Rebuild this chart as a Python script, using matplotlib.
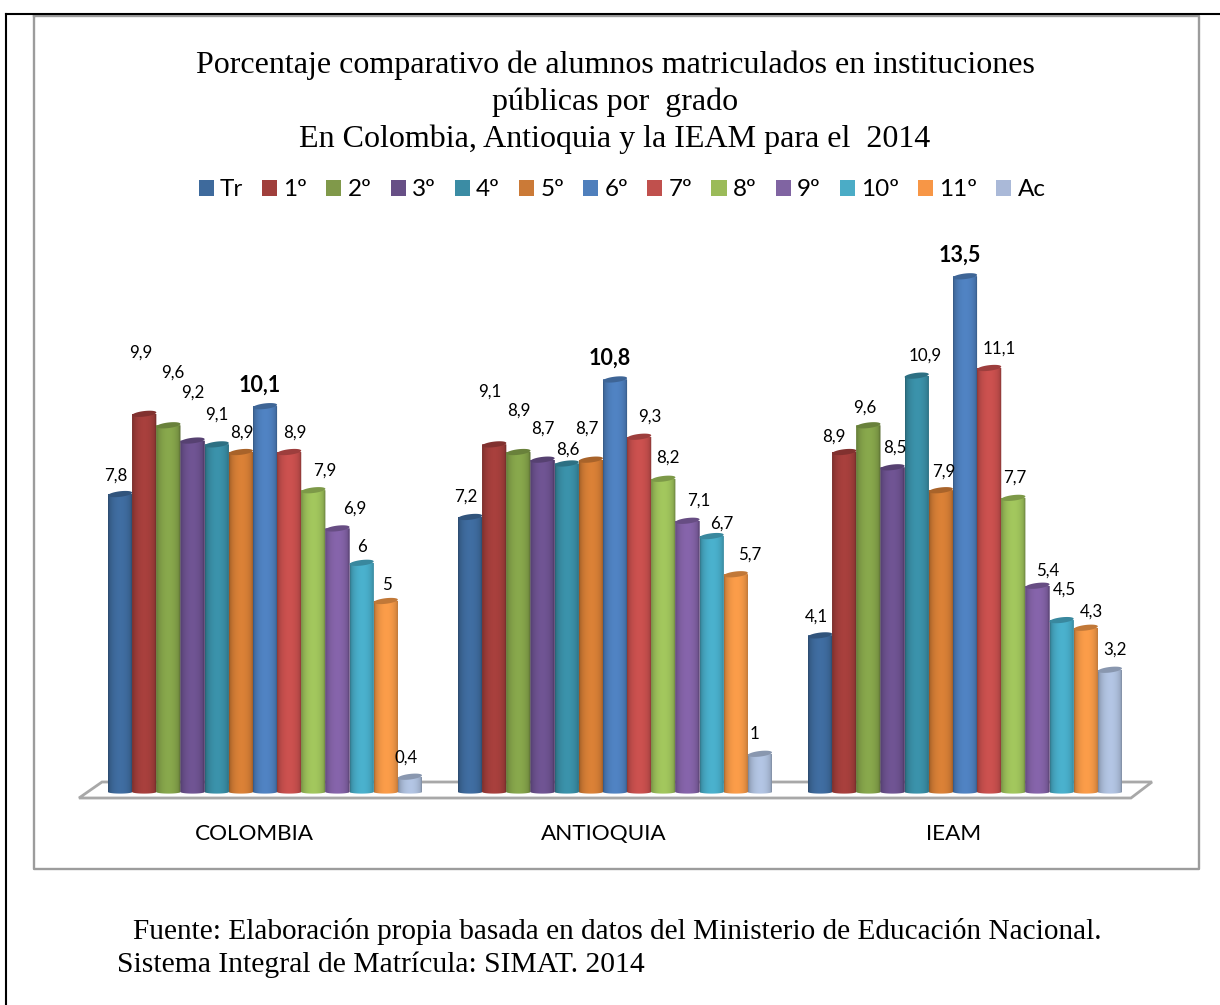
import matplotlib
matplotlib.use("Agg")
import matplotlib.pyplot as plt
import numpy as np
from matplotlib.lines import Line2D
from matplotlib.patches import Patch, PathPatch, Polygon
from matplotlib.path import Path

groups = ["COLOMBIA", "ANTIOQUIA", "IEAM"]
grades = ["Tr", "1º", "2º", "3º", "4º", "5º", "6º", "7º", "8º", "9º", "10º", "11º", "Ac"]

colombia = [7.8, 9.9, 9.6, 9.2, 9.1, 8.9, 10.1, 8.9, 7.9, 6.9, 6, 5, 0.4]
antioquia = [7.2, 9.1, 8.9, 8.7, 8.6, 8.7, 10.8, 9.3, 8.2, 7.1, 6.7, 5.7, 1]
ieam = [4.1, 8.9, 9.6, 8.5, 10.9, 7.9, 13.5, 11.1, 7.7, 5.4, 4.5, 4.3, 3.2]
values = [colombia, antioquia, ieam]

colors = ["#3f6c9f", "#a53f3c", "#86a54b", "#6e5391", "#3a90a8", "#d77f36", "#4f81c0",
          "#c9504e", "#a0c45c", "#8463a8", "#49aeca", "#f79a48", "#b0c2e0"]
legend_colors = ["#3e6a9c", "#a03f3c", "#80994a", "#674f86", "#3b8ca4", "#cb7a37", "#4f7fbc",
                 "#c0504d", "#9bbb59", "#8064a2", "#4bacc6", "#f79646", "#aab9d8"]

# label offsets in pixels from the top centre of each bar (hand placed, as in the original)
label_dx = [[-4, -4, 4, 0, 0, 1, -5, 6, 11, 17, 0, 1, -4],
            [-4, -4, 0, 0, 1, -4, -5, 11, 5, 11, 10, 14, -5],
            [-4, -10, -4, 2, 8, 3, -5, 10, 1, 10, 3, 6, 5]]
label_dy = [[18, 61, 53, 48, 30, 19, 21, 19, 20, 20, 16, 16, 19],
            [20, 53, 41, 31, 14, 31, 21, 20, 21, 20, 12, 20, 20],
            [19, 15, 18, 20, 20, 19, 21, 19, 20, 15, 30, 16, 20]]

W, H = 1220, 1005
GROUP_PX = 350.0   # distance between groups
UNIT_PX = 38.2     # pixels per percentage point
BAR_PX = 24.15
X0 = 265.0         # px of first group centre
Y0 = 792.0         # px of the baseline

fig = plt.figure(figsize=(W / 100, H / 100), dpi=100, facecolor="white")
ax = fig.add_axes([0, 0, 1, 1])
ax.axis("off")

xlim = (-X0 / GROUP_PX, (W - X0) / GROUP_PX)
ylim = ((Y0 - H) / UNIT_PX, Y0 / UNIT_PX)
dx_unit = 1 / GROUP_PX
dy_unit = 1 / UNIT_PX
bar_w = BAR_PX * dx_unit


def shade(color):
    # horizontal shading that makes the bar look like a cylinder
    rgb = np.array(matplotlib.colors.to_rgb(color))
    t = np.linspace(0, 1, 48)
    k = 0.66 + 0.36 * np.sin(np.pi * t) ** 0.45
    k[t > 0.92] *= 0.92
    return np.clip(rgb * k[:, None], 0, 1)[None, :, :]


# floor of the 3D chart
floor = Polygon([(xlim[0] + 79 * dx_unit, -6 * dy_unit), (xlim[0] + 1131 * dx_unit, -6 * dy_unit),
                 (xlim[0] + 1152 * dx_unit, 10 * dy_unit), (xlim[0] + 102 * dx_unit, 10 * dy_unit)],
                closed=True, facecolor="white", edgecolor="#a8a8a8", lw=2.0, zorder=1)
ax.add_patch(floor)

theta = np.linspace(0, 2 * np.pi, 60)
z = 2
for g, vals in enumerate(values):
    offsets = (np.arange(len(vals)) - 6) * bar_w
    bars = ax.bar(g + offsets, vals, width=bar_w, color=colors, zorder=z, linewidth=0)
    for i, (bar, v) in enumerate(zip(bars, vals)):
        x0, w = bar.get_x(), bar.get_width()
        cx = x0 + w / 2
        ry = 2.8 * dy_unit
        ry_low = 1.6 * dy_unit
        # body: straight sides with a rounded bottom
        low = np.linspace(np.pi, 2 * np.pi, 24)
        pts = [(x0, v)] + [(cx + w / 2 * np.cos(a), ry_low * np.sin(a)) for a in low] + [(x0 + w, v), (x0, v)]
        clip = PathPatch(Path(pts), transform=ax.transData, facecolor="none", edgecolor="none")
        ax.add_patch(clip)
        bar.set_clip_path(clip)
        im = ax.imshow(shade(colors[i]), extent=(x0, x0 + w, -ry_low, v), aspect="auto",
                       interpolation="bilinear", zorder=z + 0.1)
        im.set_clip_path(clip)
        # top cap, a little tilted up to the right
        cap = np.array(matplotlib.colors.to_rgb(colors[i])) * 0.78
        xs = cx + w / 2 * np.cos(theta)
        ys = v + ry * np.sin(theta) + (np.cos(theta)) * 1.4 * dy_unit
        ax.fill(xs, ys, color=cap, lw=0, zorder=z + 0.2)
        bold = i == 6
        ax.text(cx + label_dx[g][i] * dx_unit, v + label_dy[g][i] * dy_unit,
                f"{v:g}".replace(".", ","), ha="center", va="center", family="Lato",
                fontsize=15.5 if bold else 12.2, fontweight="bold" if bold else "normal",
                color="black", zorder=50)
        z += 1

for g, name in enumerate(groups):
    ax.text(g - 11 * dx_unit, -42 * dy_unit, name, ha="center", va="center", family="Lato",
            fontsize=16.2, color="black")

ax.set_xlim(xlim)
ax.set_ylim(ylim)

# legend
handles = [Patch(facecolor=c, edgecolor="none") for c in legend_colors]
fig.legend(handles, grades, loc="center", bbox_to_anchor=(622 / W, 1 - 190 / H), ncol=13, frameon=False,
           prop={"family": "Lato", "size": 17.5}, handlelength=0.62, handleheight=0.62,
           handletextpad=0.25, columnspacing=0.79, borderpad=0)

# title and source note
title_lines = ["Porcentaje comparativo de alumnos matriculados en instituciones",
               "públicas por  grado",
               "En Colombia, Antioquia y la IEAM para el  2014"]
for line, py in zip(title_lines, [65, 102, 139]):
    fig.text(615 / W, 1 - py / H, line, ha="center", va="center", family="Liberation Serif",
             fontsize=23, color="black")

fig.text(133 / W, 1 - 931 / H, "Fuente: Elaboración propia basada en datos del Ministerio de Educación Nacional.",
         ha="left", va="center", family="Liberation Serif", fontsize=21.1, color="black")
fig.text(117 / W, 1 - 965 / H, "Sistema Integral de Matrícula: SIMAT. 2014",
         ha="left", va="center", family="Liberation Serif", fontsize=21.3, color="black")

# frames: grey around the chart, black page border
def px_line(xs, ys, color, lw):
    fig.add_artist(Line2D([x / W for x in xs], [1 - y / H for y in ys], color=color, lw=lw))


px_line([34, 34, 1199, 1199, 34], [16, 869, 869, 16, 16], "#9c9c9c", 1.7)
px_line([6, 6], [14, 1005], "black", 1.5)
px_line([6, 1220], [14, 14], "black", 1.5)

fig.savefig("out.png", dpi=100)
